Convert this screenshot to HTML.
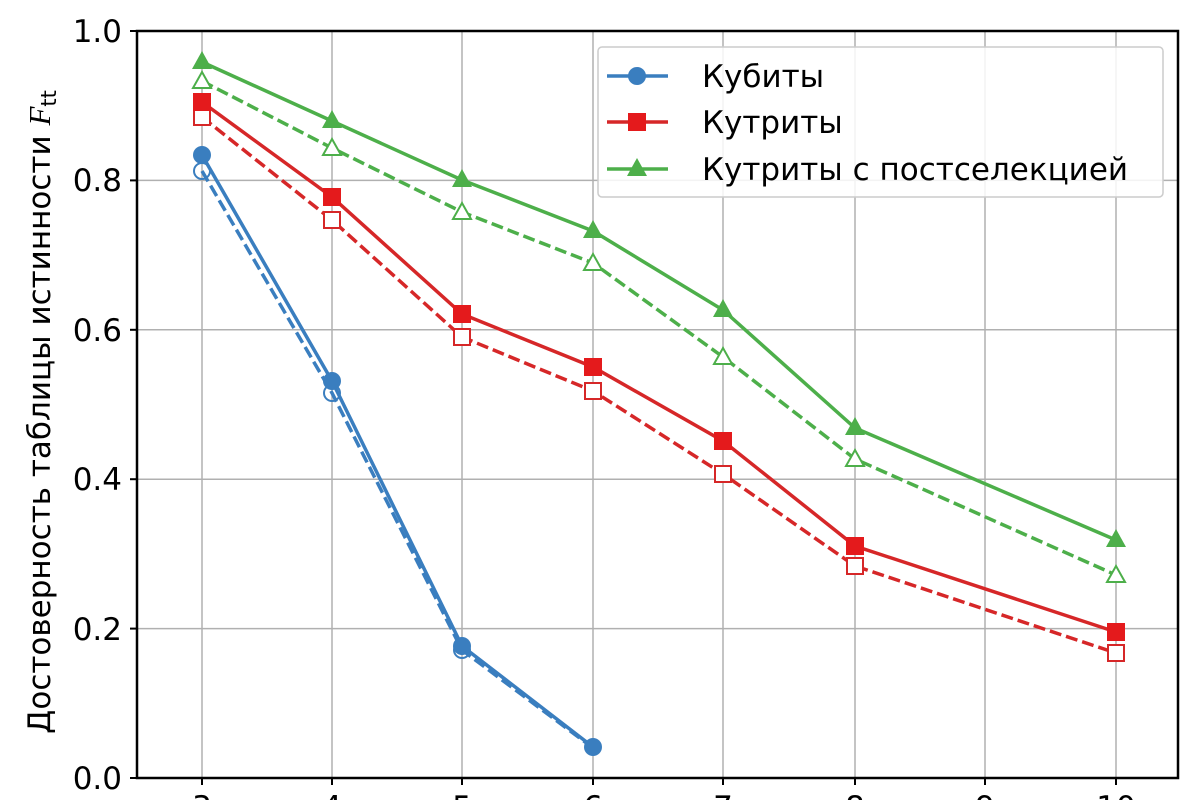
<!DOCTYPE html><html><head><meta charset="utf-8"><style>body{margin:0;background:#fff}svg{display:block}text{font-family:"DejaVu Sans","Liberation Sans",sans-serif}</style></head><body>
<svg width="1200" height="800" viewBox="0 0 1200 800">
<g stroke="#b0b0b0" stroke-width="1.5">
<line x1="202" y1="31" x2="202" y2="778"/><line x1="332" y1="31" x2="332" y2="778"/><line x1="462" y1="31" x2="462" y2="778"/><line x1="593" y1="31" x2="593" y2="778"/><line x1="723" y1="31" x2="723" y2="778"/><line x1="855" y1="31" x2="855" y2="778"/><line x1="985" y1="31" x2="985" y2="778"/><line x1="1116" y1="31" x2="1116" y2="778"/>
<line x1="137" y1="180.4" x2="1178" y2="180.4"/><line x1="137" y1="329.8" x2="1178" y2="329.8"/><line x1="137" y1="479.2" x2="1178" y2="479.2"/><line x1="137" y1="628.6" x2="1178" y2="628.6"/>
</g>
<rect x="137" y="31" width="1041" height="747" fill="none" stroke="#000" stroke-width="2.5"/>
<g stroke="#000" stroke-width="2">
<line x1="130" y1="31" x2="137" y2="31"/><line x1="130" y1="180.4" x2="137" y2="180.4"/><line x1="130" y1="329.8" x2="137" y2="329.8"/><line x1="130" y1="479.2" x2="137" y2="479.2"/><line x1="130" y1="628.6" x2="137" y2="628.6"/><line x1="130" y1="778" x2="137" y2="778"/>
<line x1="202" y1="778" x2="202" y2="785"/><line x1="332" y1="778" x2="332" y2="785"/><line x1="462" y1="778" x2="462" y2="785"/><line x1="593" y1="778" x2="593" y2="785"/><line x1="723" y1="778" x2="723" y2="785"/><line x1="855" y1="778" x2="855" y2="785"/><line x1="985" y1="778" x2="985" y2="785"/><line x1="1116" y1="778" x2="1116" y2="785"/>
</g>
<g font-size="31" text-anchor="end" fill="#000">
<text x="122" y="42">1.0</text><text x="122" y="191">0.8</text><text x="122" y="341">0.6</text><text x="122" y="490">0.4</text><text x="122" y="640">0.2</text><text x="122" y="789">0.0</text>
</g>
<g font-size="31" text-anchor="middle" fill="#000">
<text x="202" y="818">3</text><text x="332" y="818">4</text><text x="462" y="818">5</text><text x="593" y="818">6</text><text x="723" y="818">7</text><text x="855" y="818">8</text><text x="985" y="818">9</text><text x="1116" y="818">10</text>
</g>
<text transform="translate(50,412) rotate(-90)" font-size="31" text-anchor="middle">Достоверность таблицы истинности <tspan font-style="italic" font-family="Liberation Serif,serif">F</tspan><tspan font-size="21" dy="6">tt</tspan></text>
<!-- blue -->
<polyline points="202,171 332,393 462,650 593,748" fill="none" stroke="#3a7ebf" stroke-width="3.5" stroke-dasharray="12,5"/>
<polyline points="202,155 332,381 462,646 593,747" fill="none" stroke="#3a7ebf" stroke-width="3.5"/>
<g fill="none" stroke="#3a7ebf" stroke-width="2"><circle cx="202" cy="171" r="8"/><circle cx="332" cy="393" r="8"/><circle cx="462" cy="650" r="8"/></g>
<g fill="#3a7ebf"><circle cx="202" cy="155" r="9"/><circle cx="332" cy="381" r="9"/><circle cx="462" cy="646" r="9"/><circle cx="593" cy="747" r="9"/></g>
<!-- red -->
<polyline points="202,117 332,220 462,337 593,391 723,474 855,566 1116,653" fill="none" stroke="#d62728" stroke-width="3.5" stroke-dasharray="12,5"/>
<polyline points="202,102 332,197 462,314 593,367 723,441 855,546 1116,632" fill="none" stroke="#d62728" stroke-width="3.5"/>
<g fill="#fff" stroke="#d62728" stroke-width="2"><rect x="194" y="109" width="16" height="16"/><rect x="324" y="212" width="16" height="16"/><rect x="454" y="329" width="16" height="16"/><rect x="585" y="383" width="16" height="16"/><rect x="715" y="466" width="16" height="16"/><rect x="847" y="558" width="16" height="16"/><rect x="1108" y="645" width="16" height="16"/></g>
<g fill="#e41a1c"><rect x="193" y="93" width="18" height="18"/><rect x="323" y="188" width="18" height="18"/><rect x="453" y="305" width="18" height="18"/><rect x="584" y="358" width="18" height="18"/><rect x="714" y="432" width="18" height="18"/><rect x="846" y="537" width="18" height="18"/><rect x="1107" y="623" width="18" height="18"/></g>
<!-- green -->
<polyline points="202,81 332,148 462,212 593,263 723,357 855,459 1116,575" fill="none" stroke="#4daf4a" stroke-width="3.5" stroke-dasharray="12,5"/>
<polyline points="202,62 332,121 462,180 593,231 723,310 855,428 1116,540" fill="none" stroke="#4daf4a" stroke-width="3.5"/>
<g fill="#fff" stroke="#4daf4a" stroke-width="2">
<polygon points="202,72 211,88 193,88"/><polygon points="332,139 341,155 323,155"/><polygon points="462,203 471,219 453,219"/><polygon points="593,254 602,270 584,270"/><polygon points="723,348 732,364 714,364"/><polygon points="855,450 864,466 846,466"/><polygon points="1116,566 1125,582 1107,582"/></g>
<g fill="#4daf4a">
<polygon points="202,51 212,69 192,69"/><polygon points="332,110 342,128 322,128"/><polygon points="462,169 472,187 452,187"/><polygon points="593,220 603,238 583,238"/><polygon points="723,299 733,317 713,317"/><polygon points="855,417 865,435 845,435"/><polygon points="1116,529 1126,547 1106,547"/></g>
<!-- legend -->
<rect x="598" y="47" width="565" height="150" rx="4" fill="#fff" fill-opacity="0.85" stroke="#ccc" stroke-width="1.5"/>
<line x1="607" y1="76" x2="668" y2="76" stroke="#3a7ebf" stroke-width="3.5"/><circle cx="637" cy="76" r="9" fill="#3a7ebf"/>
<line x1="607" y1="122" x2="668" y2="122" stroke="#d62728" stroke-width="3.5"/><rect x="628" y="113" width="18" height="18" fill="#e41a1c"/>
<line x1="607" y1="169" x2="668" y2="169" stroke="#4daf4a" stroke-width="3.5"/><polygon points="637,158 647,176 627,176" fill="#4daf4a"/>
<g font-size="31" fill="#000"><text x="702" y="87">Кубиты</text><text x="702" y="133">Кутриты</text><text x="702" y="180">Кутриты с постселекцией</text></g>
</svg></body></html>
